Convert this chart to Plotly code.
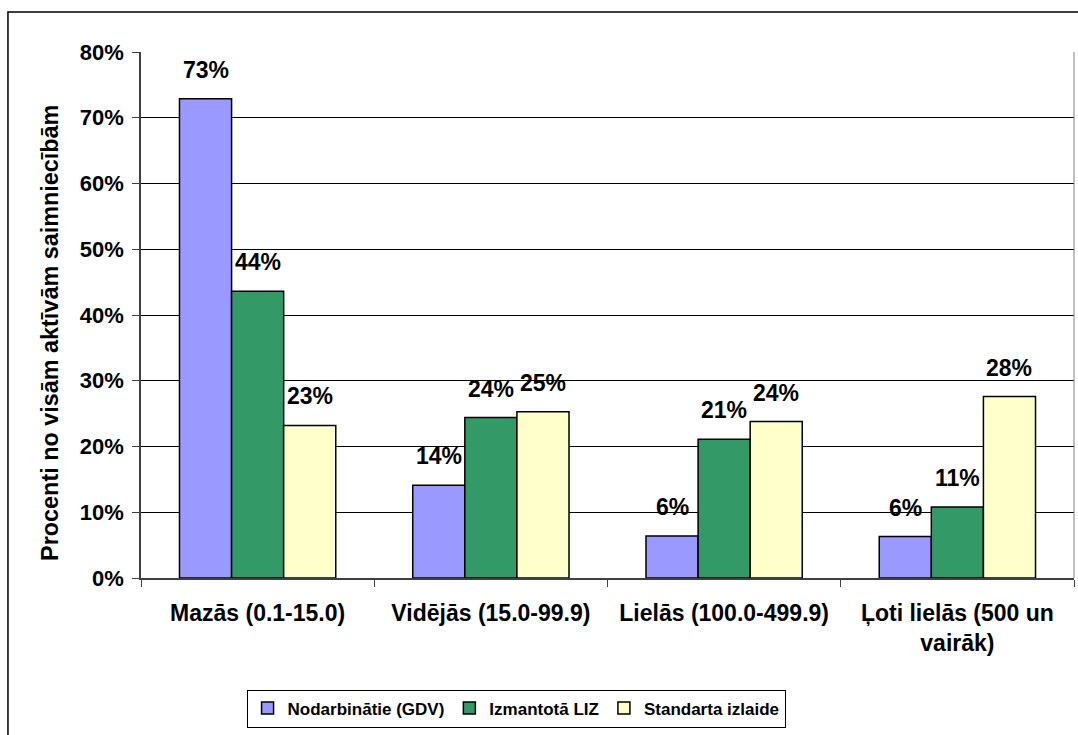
import plotly.graph_objects as go

categories = ["Mazās (0.1-15.0)", "Vidējās (15.0-99.9)", "Lielās (100.0-499.9)", "Ļoti lielās (500 un<br>vairāk)"]
series_names = ["Nodarbinātie (GDV)", "Izmantotā LIZ", "Standarta izlaide"]
nodarbinatie = [72.9, 14.1, 6.4, 6.3]
izmantota_liz = [43.6, 24.4, 21.1, 10.8]
standarta_izlaide = [23.2, 25.3, 23.8, 27.6]
colors = ["#9999FF", "#339966", "#FFFFCC"]
y_ticks = [0, 10, 20, 30, 40, 50, 60, 70, 80]
y_tick_labels = ["0%", "10%", "20%", "30%", "40%", "50%", "60%", "70%", "80%"]
y_title = "Procenti no visām aktīvām saimniecībām"

FONT = "Liberation Sans, Arial, sans-serif"
all_series = [nodarbinatie, izmantota_liz, standarta_izlaide]

fig = go.Figure()
for name, vals, col in zip(series_names, all_series, colors):
    fig.add_trace(go.Bar(
        x=categories, y=vals, name=name,
        marker=dict(color=col, line=dict(color="black", width=1.5)),
        cliponaxis=False,
    ))

# data labels above each bar (bar width ~52 px in a 933 px wide plot)
BAR_PX = 52
for i, vals in enumerate(all_series):
    for cat, v in zip(categories, vals):
        fig.add_annotation(
            x=cat, y=v, xref="x", yref="y",
            text=f"{round(v):.0f}%", showarrow=False,
            xshift=(i - 1) * BAR_PX, yshift=14, yanchor="bottom",
            font=dict(family=FONT, size=23, color="black", weight="bold"),
        )

# y-axis title (placed slightly below the plot centre, as in the original)
fig.add_annotation(
    x=-0.0975, y=0.466, xref="paper", yref="paper",
    text=y_title, textangle=-90, showarrow=False,
    xanchor="center", yanchor="middle",
    font=dict(family=FONT, size=23.4, color="black", weight="bold"),
)

fig.update_layout(
    width=1078, height=735, autosize=False,
    margin=dict(l=141, r=4, t=52, b=157, autoexpand=False),
    paper_bgcolor="white", plot_bgcolor="white",
    barmode="group", bargap=0.33, bargroupgap=0,
    font=dict(family=FONT, size=17, color="black"),
    showlegend=True,
    legend=dict(orientation="h", x=0.402, xanchor="center", y=-0.212, yanchor="top",
                bordercolor="black", borderwidth=1, bgcolor="white",
                font=dict(family=FONT, size=17, color="black", weight="bold"),
                traceorder="normal", itemwidth=30),
)
fig.update_xaxes(
    type="category", showgrid=False, showline=True, linecolor="#404040", linewidth=1.5,
    ticks="outside", tickson="boundaries", ticklen=7, tickcolor="#404040",
    tickfont=dict(family=FONT, size=23, color="black", weight="bold"),
    ticklabelstandoff=14, automargin=False,
)
fig.update_yaxes(
    range=[0, 80], tickvals=y_ticks, ticktext=y_tick_labels,
    showgrid=True, gridcolor="black", gridwidth=1,
    showline=True, linecolor="#404040", linewidth=1.5,
    ticks="outside", ticklen=7, tickcolor="#404040",
    tickfont=dict(family=FONT, size=22, color="black", weight="bold"),
    ticklabelstandoff=4, automargin=False,
    zeroline=False,
)
# plot area right border and outer chart frame
fig.add_shape(type="line", xref="paper", yref="paper", x0=1, x1=1, y0=0, y1=1,
              line=dict(color="#808080", width=1))
fig.add_shape(type="rect", xref="paper", yref="paper",
              x0=-0.1426, x1=1.02, y0=-0.4, y1=1.076,
              line=dict(color="black", width=1.5), fillcolor="rgba(0,0,0,0)", layer="below")

post = ("document.body.style.margin='0';document.body.style.overflow='hidden';"
        "var gd=document.getElementById('{plot_id}');"
        "Plotly.relayout(gd,{width:1078,height:735});")
fig.write_html("out.html", post_script=post,
               config={"responsive": False, "displayModeBar": False})
